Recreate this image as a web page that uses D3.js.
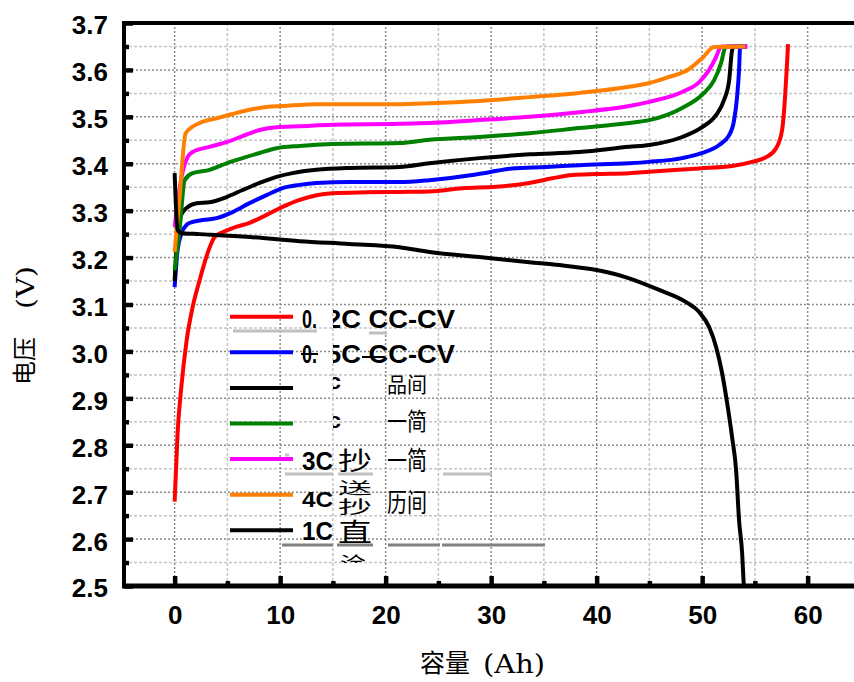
<!DOCTYPE html>
<html>
<head>
<meta charset="utf-8">
<script src="https://cdn.jsdelivr.net/npm/d3@7"></script>
<style>
  body { margin: 0; background: #fff; }
  svg { display: block; }
</style>
</head>
<body>
<svg id="chart" width="854" height="682"></svg>
<script>
// ---- data (capacity Ah, voltage V) ----
const xTicks = [0, 10, 20, 30, 40, 50, 60];
const yTicks = [2.5, 2.6, 2.7, 2.8, 2.9, 3.0, 3.1, 3.2, 3.3, 3.4, 3.5, 3.6, 3.7];

const charge02C = [[0,2.68],[0.28,2.826],[0.66,2.93],[1.14,3.024],[1.7,3.094],[2.37,3.152],[3.13,3.21],[3.79,3.244],[4.55,3.254],[5.49,3.263],[7.1,3.274],[8.71,3.291],[10.23,3.308],[11.84,3.323],[13.45,3.333],[14.96,3.337],[18.18,3.339],[21.31,3.34],[24.15,3.341],[27.27,3.348],[30.49,3.351],[33.62,3.359],[35.8,3.369],[37.7,3.376],[39.96,3.378],[43.09,3.38],[44.98,3.383],[49.72,3.39],[52.84,3.395],[54.73,3.404],[56.06,3.414],[57.01,3.433],[57.58,3.472],[57.86,3.542],[58.05,3.615],[58.14,3.655]];
const charge05C = [[0,3.137],[0.28,3.216],[0.66,3.252],[1.14,3.27],[1.7,3.276],[2.65,3.28],[3.98,3.284],[5.49,3.297],[7.1,3.316],[8.71,3.333],[10.23,3.348],[11.84,3.355],[13.45,3.359],[16.57,3.361],[21.31,3.361],[24.15,3.365],[28.22,3.376],[29.83,3.382],[32.0,3.39],[35.23,3.393],[38.35,3.397],[43.09,3.401],[44.98,3.404],[48.11,3.412],[50.0,3.423],[51.61,3.44],[52.56,3.461],[53.03,3.493],[53.31,3.542],[53.5,3.6],[53.6,3.649],[54.2,3.65]];
const charge1C = [[0,3.15],[0.3,3.26],[0.6,3.29],[1.14,3.306],[2.08,3.316],[3.31,3.318],[4.92,3.329],[6.44,3.344],[8.05,3.359],[9.66,3.372],[11.17,3.38],[13.45,3.387],[16.57,3.391],[21.31,3.393],[24.15,3.401],[28.88,3.412],[33.62,3.42],[38.35,3.425],[43.09,3.436],[44.98,3.44],[48.11,3.457],[50.0,3.478],[51.33,3.504],[52.08,3.536],[52.56,3.578],[52.84,3.642],[53.03,3.65],[54.2,3.65]];
const charge2C = [[0,3.173],[0.47,3.259],[0.95,3.365],[1.7,3.38],[3.31,3.387],[4.92,3.401],[6.44,3.412],[8.05,3.423],[9.66,3.433],[11.84,3.438],[14.96,3.442],[21.31,3.444],[24.15,3.451],[28.88,3.457],[33.62,3.465],[38.35,3.476],[43.09,3.487],[44.98,3.493],[48.11,3.519],[50.0,3.547],[51.14,3.578],[51.8,3.615],[52.18,3.647],[52.4,3.65],[54.2,3.65]];
const charge3C = [[0,3.265],[0.66,3.372],[1.23,3.414],[1.7,3.425],[3.31,3.436],[4.92,3.446],[6.44,3.459],[8.05,3.472],[9.66,3.478],[11.84,3.48],[14.96,3.483],[21.31,3.485],[24.15,3.487],[28.88,3.493],[33.62,3.5],[38.35,3.51],[43.09,3.523],[44.98,3.532],[48.11,3.553],[49.72,3.574],[50.66,3.6],[51.33,3.628],[51.7,3.647],[51.9,3.65],[54.3,3.65]];
const charge4C = [[0,3.212],[0.47,3.329],[1.04,3.465],[2.37,3.487],[3.98,3.497],[5.49,3.506],[7.1,3.515],[8.71,3.521],[10.23,3.523],[13.45,3.527],[21.31,3.527],[24.15,3.529],[28.88,3.534],[33.62,3.542],[38.35,3.551],[43.09,3.564],[44.98,3.572],[46.59,3.583],[48.77,3.602],[50.0,3.625],[51.14,3.649],[54.1,3.65]];
const discharge1C = [[0,3.38],[0.28,3.259],[0.66,3.252],[2.37,3.25],[7.1,3.244],[11.84,3.235],[16.57,3.229],[21.31,3.222],[24.15,3.212],[28.88,3.201],[33.62,3.19],[36.46,3.184],[39.58,3.175],[42.8,3.158],[45.93,3.131],[48.48,3.105],[49.72,3.084],[50.66,3.052],[51.33,3.009],[51.89,2.954],[52.37,2.89],[52.84,2.817],[53.22,2.747],[53.5,2.64],[53.79,2.57],[53.95,2.5]];

const seriesList = [charge02C, charge05C, charge1C, charge2C, charge3C, charge4C, discharge1C];
const seriesColors = ["#ff0000", "#0000ff", "#000000", "#008000", "#ff00ff", "#ff8000", "#000000"];

// ---- layout ----
const svg = d3.select("#chart");
const plotLeft = 124, plotTop = 23, plotBottom = 586;

const x = d3.scaleLinear().domain([-4.8, 65]).range([plotLeft, plotLeft + 69.8 * 10.55]);
const y = d3.scaleLinear().domain([2.5, 3.7]).range([plotBottom, plotTop]);

const latin = "'Liberation Sans', Arial, sans-serif";
const cjk = "'Noto Sans CJK SC', sans-serif";
const serif = "'DejaVu Serif', 'Liberation Serif', serif";

// grid
const grid = svg.append("g");
d3.range(2.55, 3.7, 0.05).forEach((v, i) => {
    const major = i % 2 === 1;
    grid.append("line")
        .attr("x1", plotLeft).attr("x2", 854)
        .attr("y1", y(v)).attr("y2", y(v))
        .attr("stroke", major ? "#8c8c8c" : "#c4c4c4")
        .attr("stroke-width", 1.5)
        .attr("stroke-dasharray", major ? "2,2" : "3,2");
});
d3.range(0, 61, 5).forEach(v => {
    const major = v % 10 === 0;
    grid.append("line")
        .attr("x1", x(v)).attr("x2", x(v))
        .attr("y1", plotTop).attr("y2", plotBottom)
        .attr("stroke", major ? "#8c8c8c" : "#c4c4c4")
        .attr("stroke-width", 1.5)
        .attr("stroke-dasharray", major ? "2,2" : "3,2");
});

// series
const line = d3.line()
    .x(d => x(d[0]))
    .y(d => y(d[1]))
    .curve(d3.curveMonotoneX);

svg.append("g").selectAll("path")
    .data(seriesList)
    .join("path")
    .attr("d", line)
    .attr("fill", "none")
    .attr("stroke", (d, i) => seriesColors[i])
    .attr("stroke-width", 4)
    .attr("stroke-linejoin", "round");

// axes
const yAxis = svg.append("g")
    .attr("transform", `translate(${plotLeft},0)`)
    .call(d3.axisLeft(y).tickValues(yTicks).tickSize(-9).tickPadding(16).tickFormat(d3.format(".1f")));
yAxis.select(".domain").remove();
yAxis.selectAll(".tick line").attr("stroke-width", 4.5);
yAxis.selectAll("text")
    .attr("dy", "0.42em")
    .style("font-family", latin).style("font-weight", "bold").style("font-size", "26px").attr("fill", "#000");

const yMinor = svg.append("g")
    .attr("transform", `translate(${plotLeft},0)`)
    .call(d3.axisLeft(y).tickValues(d3.range(2.55, 3.7, 0.1)).tickSize(-5).tickFormat(""));
yMinor.select(".domain").remove();
yMinor.selectAll(".tick line").attr("stroke-width", 4.5);

const xAxis = svg.append("g")
    .attr("transform", `translate(0,${plotBottom})`)
    .call(d3.axisBottom(x).tickValues(xTicks).tickSize(-10).tickPadding(20));
xAxis.select(".domain").remove();
xAxis.selectAll(".tick line").attr("stroke-width", 4.5);
xAxis.selectAll("text")
    .style("font-family", latin).style("font-weight", "bold").style("font-size", "26px").attr("fill", "#000");

const xMinor = svg.append("g")
    .attr("transform", `translate(0,${plotBottom})`)
    .call(d3.axisBottom(x).tickValues(d3.range(5, 61, 10)).tickSize(-5).tickFormat(""));
xMinor.select(".domain").remove();
xMinor.selectAll(".tick line").attr("stroke-width", 4.5);

// frame
svg.append("line").attr("x1", plotLeft).attr("x2", plotLeft).attr("y1", plotTop - 2).attr("y2", plotBottom + 2)
    .attr("stroke", "#000").attr("stroke-width", 4);
svg.append("line").attr("x1", plotLeft - 2).attr("x2", 854).attr("y1", plotBottom).attr("y2", plotBottom)
    .attr("stroke", "#000").attr("stroke-width", 5);
svg.append("line").attr("x1", plotLeft - 2).attr("x2", 854).attr("y1", plotTop).attr("y2", plotTop)
    .attr("stroke", "#000").attr("stroke-width", 4);

// axis titles: CJK part + narrow serif unit
svg.append("text")
    .attr("transform", "translate(33,385) rotate(-90)")
    .style("font-family", cjk).style("font-size", "24px")
    .text("电压");
svg.append("text")
    .attr("transform", "translate(34,309) rotate(-90)")
    .attr("textLength", 43).attr("lengthAdjust", "spacingAndGlyphs")
    .style("font-family", serif).style("font-size", "25px")
    .text("(V)");

svg.append("text")
    .attr("x", 420).attr("y", 672)
    .style("font-family", cjk).style("font-size", "25px")
    .text("容量");
svg.append("text")
    .attr("x", 483).attr("y", 673)
    .attr("textLength", 62).attr("lengthAdjust", "spacingAndGlyphs")
    .style("font-family", serif).style("font-size", "26px")
    .text("(Ah)");

// legend
const legTop = 316.7, legStep = 35.6;
const legend = svg.append("g");
legend.selectAll("line.key")
    .data(seriesColors)
    .join("line")
    .attr("class", "key")
    .attr("x1", 230).attr("x2", 293)
    .attr("y1", (d, i) => legTop + i * legStep)
    .attr("y2", (d, i) => legTop + i * legStep)
    .attr("stroke", d => d)
    .attr("stroke-width", 4);

svg.append("clipPath").attr("id", "colB")
    .append("rect").attr("x", 333).attr("y", 0).attr("width", 521).attr("height", 563);

// legend text fragments: [text, x, baseline, length, font, size, clipped]
const legendPieces = [
    ["0.", 302, 328, 15, latin, 25, false],
    ["2C CC-CV", 326, 328, 129, latin, 25, true],
    ["0.", 302, 363, 15, latin, 25, false],
    ["5C CC-CV", 326, 363, 129, latin, 25, true],
    ["c", 328, 389, 13, latin, 22, true],
    ["品间", 387, 392, 40, cjk, 21, false],
    ["c", 328, 428, 13, latin, 22, true],
    ["一简", 387, 430, 40, cjk, 24, false],
    ["3C", 302, 470, 31, latin, 25, false],
    ["抄", 338, 470, 34, cjk, 25, false],
    ["一简", 387, 470, 40, cjk, 26, false],
    ["4C", 302, 507, 31, latin, 22, false],
    ["送", 338, 494, 34, cjk, 16, false],
    ["抄", 338, 513, 34, cjk, 17, false],
    ["历间", 387, 512, 40, cjk, 26, false],
    ["1C", 302, 540, 31, latin, 25, false],
    ["直", 338, 542, 34, cjk, 26, false],
    ["涂", 340, 572, 26, cjk, 20, true]
];
legend.selectAll("text")
    .data(legendPieces)
    .join("text")
    .attr("x", d => d[1]).attr("y", d => d[2])
    .attr("textLength", d => d[3])
    .attr("lengthAdjust", "spacingAndGlyphs")
    .attr("clip-path", d => d[6] ? "url(#colB)" : null)
    .style("font-family", d => d[4])
    .style("font-weight", d => d[4] === latin ? "bold" : "normal")
    .style("font-size", d => d[5] + "px")
    .text(d => d[0]);

// stray strokes inside the legend: [x1, x2, y, colour, width]
const legendMarks = [
    [233, 317, 331, "#c0c0c0", 3], [369, 387, 333, "#c0c0c0", 3],
    [301, 318, 354, "#000", 2], [362, 385, 357, "#000", 2],
    [285, 289, 455, "#c0c0c0", 3],
    [285, 333, 474, "#c0c0c0", 3], [338, 373, 474, "#c0c0c0", 3], [443, 492, 474, "#c0c0c0", 3],
    [282, 333, 545, "#808080", 3], [337, 373, 545, "#808080", 3], [388, 440, 545, "#808080", 3], [442, 545, 545, "#808080", 3]
];
legend.selectAll("line.mark")
    .data(legendMarks)
    .join("line")
    .attr("class", "mark")
    .attr("x1", d => d[0]).attr("x2", d => d[1])
    .attr("y1", d => d[2]).attr("y2", d => d[2])
    .attr("stroke", d => d[3])
    .attr("stroke-width", d => d[4]);
</script>
</body>
</html>
